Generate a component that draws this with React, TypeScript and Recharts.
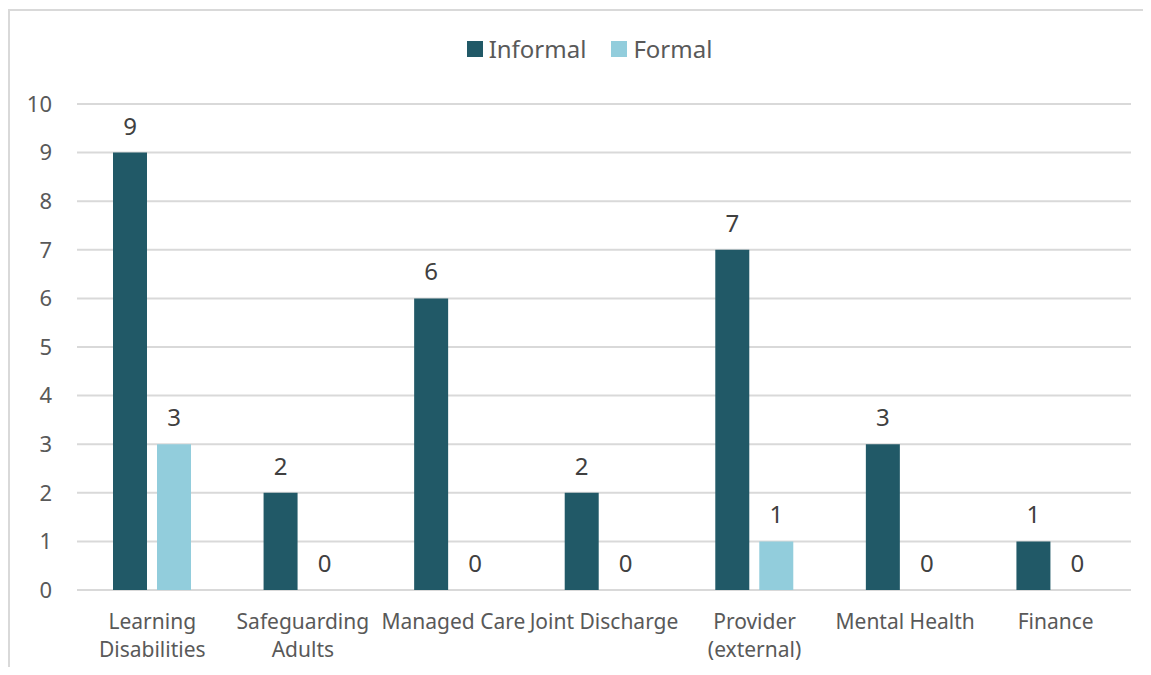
import { Bar, BarChart, CartesianGrid, LabelList, XAxis, YAxis } from 'recharts';

const categories = [
  'Learning\nDisabilities',
  'Safeguarding\nAdults',
  'Managed Care',
  'Joint Discharge',
  'Provider\n(external)',
  'Mental Health',
  'Finance',
];
const informal = [9, 2, 6, 2, 7, 3, 1];
const formal = [3, 0, 0, 0, 1, 0, 0];
const yTicks = [0, 1, 2, 3, 4, 5, 6, 7, 8, 9, 10];
// category boundaries for the Excel-style tick marks between groups
const boundaries = [0, 1, 2, 3, 4, 5, 6, 7];

const data = categories.map((name, i) => ({ name, informal: informal[i], formal: formal[i] }));

const FONT = '"Noto Sans", "Open Sans", sans-serif';
const TEXT = '#595959';
const GRID = '#d9d9d9';
const DARK = '#215967';
const LIGHT = '#92cddc';

function CategoryTick({ x, y, payload }: any) {
  const lines = String(payload.value).split('\n');
  return (
    <text x={x} y={y} textAnchor="middle" fill={TEXT} fontSize={21} fontFamily={FONT}>
      {lines.map((line, i) => (
        <tspan key={i} x={x} dy={i === 0 ? 0 : 28}>
          {line}
        </tspan>
      ))}
    </text>
  );
}

// zero-valued bars get a hairline so their "0" labels are still placed
const keepZero = (value: number) => (value === 0 ? 0.001 : 0);

function Legend() {
  const items = [
    { label: 'Informal', color: DARK },
    { label: 'Formal', color: LIGHT },
  ];
  return (
    <div
      style={{
        position: 'absolute',
        top: 24,
        left: 10,
        width: 1143,
        display: 'flex',
        justifyContent: 'center',
        gap: 25,
        fontFamily: FONT,
        fontSize: 24,
        color: TEXT,
      }}
    >
      {items.map(it => (
        <div key={it.label} style={{ display: 'flex', alignItems: 'center', gap: 6 }}>
          <span style={{ width: 16, height: 16, background: it.color, display: 'inline-block' }} />
          <span>{it.label}</span>
        </div>
      ))}
    </div>
  );
}

export default function App() {
  return (
    <div style={{ position: 'relative', width: 1143, height: 659, overflow: 'hidden' }}>
      <div
        style={{
          position: 'absolute',
          left: 0,
          top: 1,
          width: 1143,
          height: 700,
          borderTop: `2px solid ${GRID}`,
          borderLeft: `2px solid ${GRID}`,
          boxSizing: 'border-box',
        }}
      />
      <Legend />
      <BarChart
        width={1143}
        height={659}
        data={data}
        margin={{ top: 96, right: 20, left: 0, bottom: 0 }}
        barSize={34}
        barGap={10}
        style={{ position: 'absolute', left: 0, top: 0 }}
      >
        <CartesianGrid vertical={false} stroke={GRID} strokeWidth={2} />
        <YAxis
          domain={[0, 10]}
          ticks={yTicks}
          width={69}
          axisLine={false}
          tickLine={false}
          tickSize={0}
          tickMargin={25}
          tick={{ fill: TEXT, fontSize: 22, fontFamily: FONT }}
          interval={0}
        />
        <XAxis
          xAxisId="bounds"
          type="number"
          domain={[0, 7]}
          ticks={boundaries}
          height={0}
          tick={false}
          tickSize={7}
          axisLine={{ stroke: GRID, strokeWidth: 2 }}
          tickLine={{ stroke: GRID, strokeWidth: 2 }}
          interval={0}
        />
        <XAxis
          dataKey="name"
          height={77}
          axisLine={false}
          tickLine={false}
          tickSize={0}
          tickMargin={39}
          tick={<CategoryTick />}
          interval={0}
        />
        <Bar dataKey="informal" fill={DARK} isAnimationActive={false} minPointSize={keepZero}>
          <LabelList dataKey="informal" position="top" offset={18} fill="#404040" fontSize={24} fontFamily={FONT} />
        </Bar>
        <Bar dataKey="formal" fill={LIGHT} isAnimationActive={false} minPointSize={keepZero}>
          <LabelList dataKey="formal" position="top" offset={18} fill="#404040" fontSize={24} fontFamily={FONT} />
        </Bar>
      </BarChart>
    </div>
  );
}
